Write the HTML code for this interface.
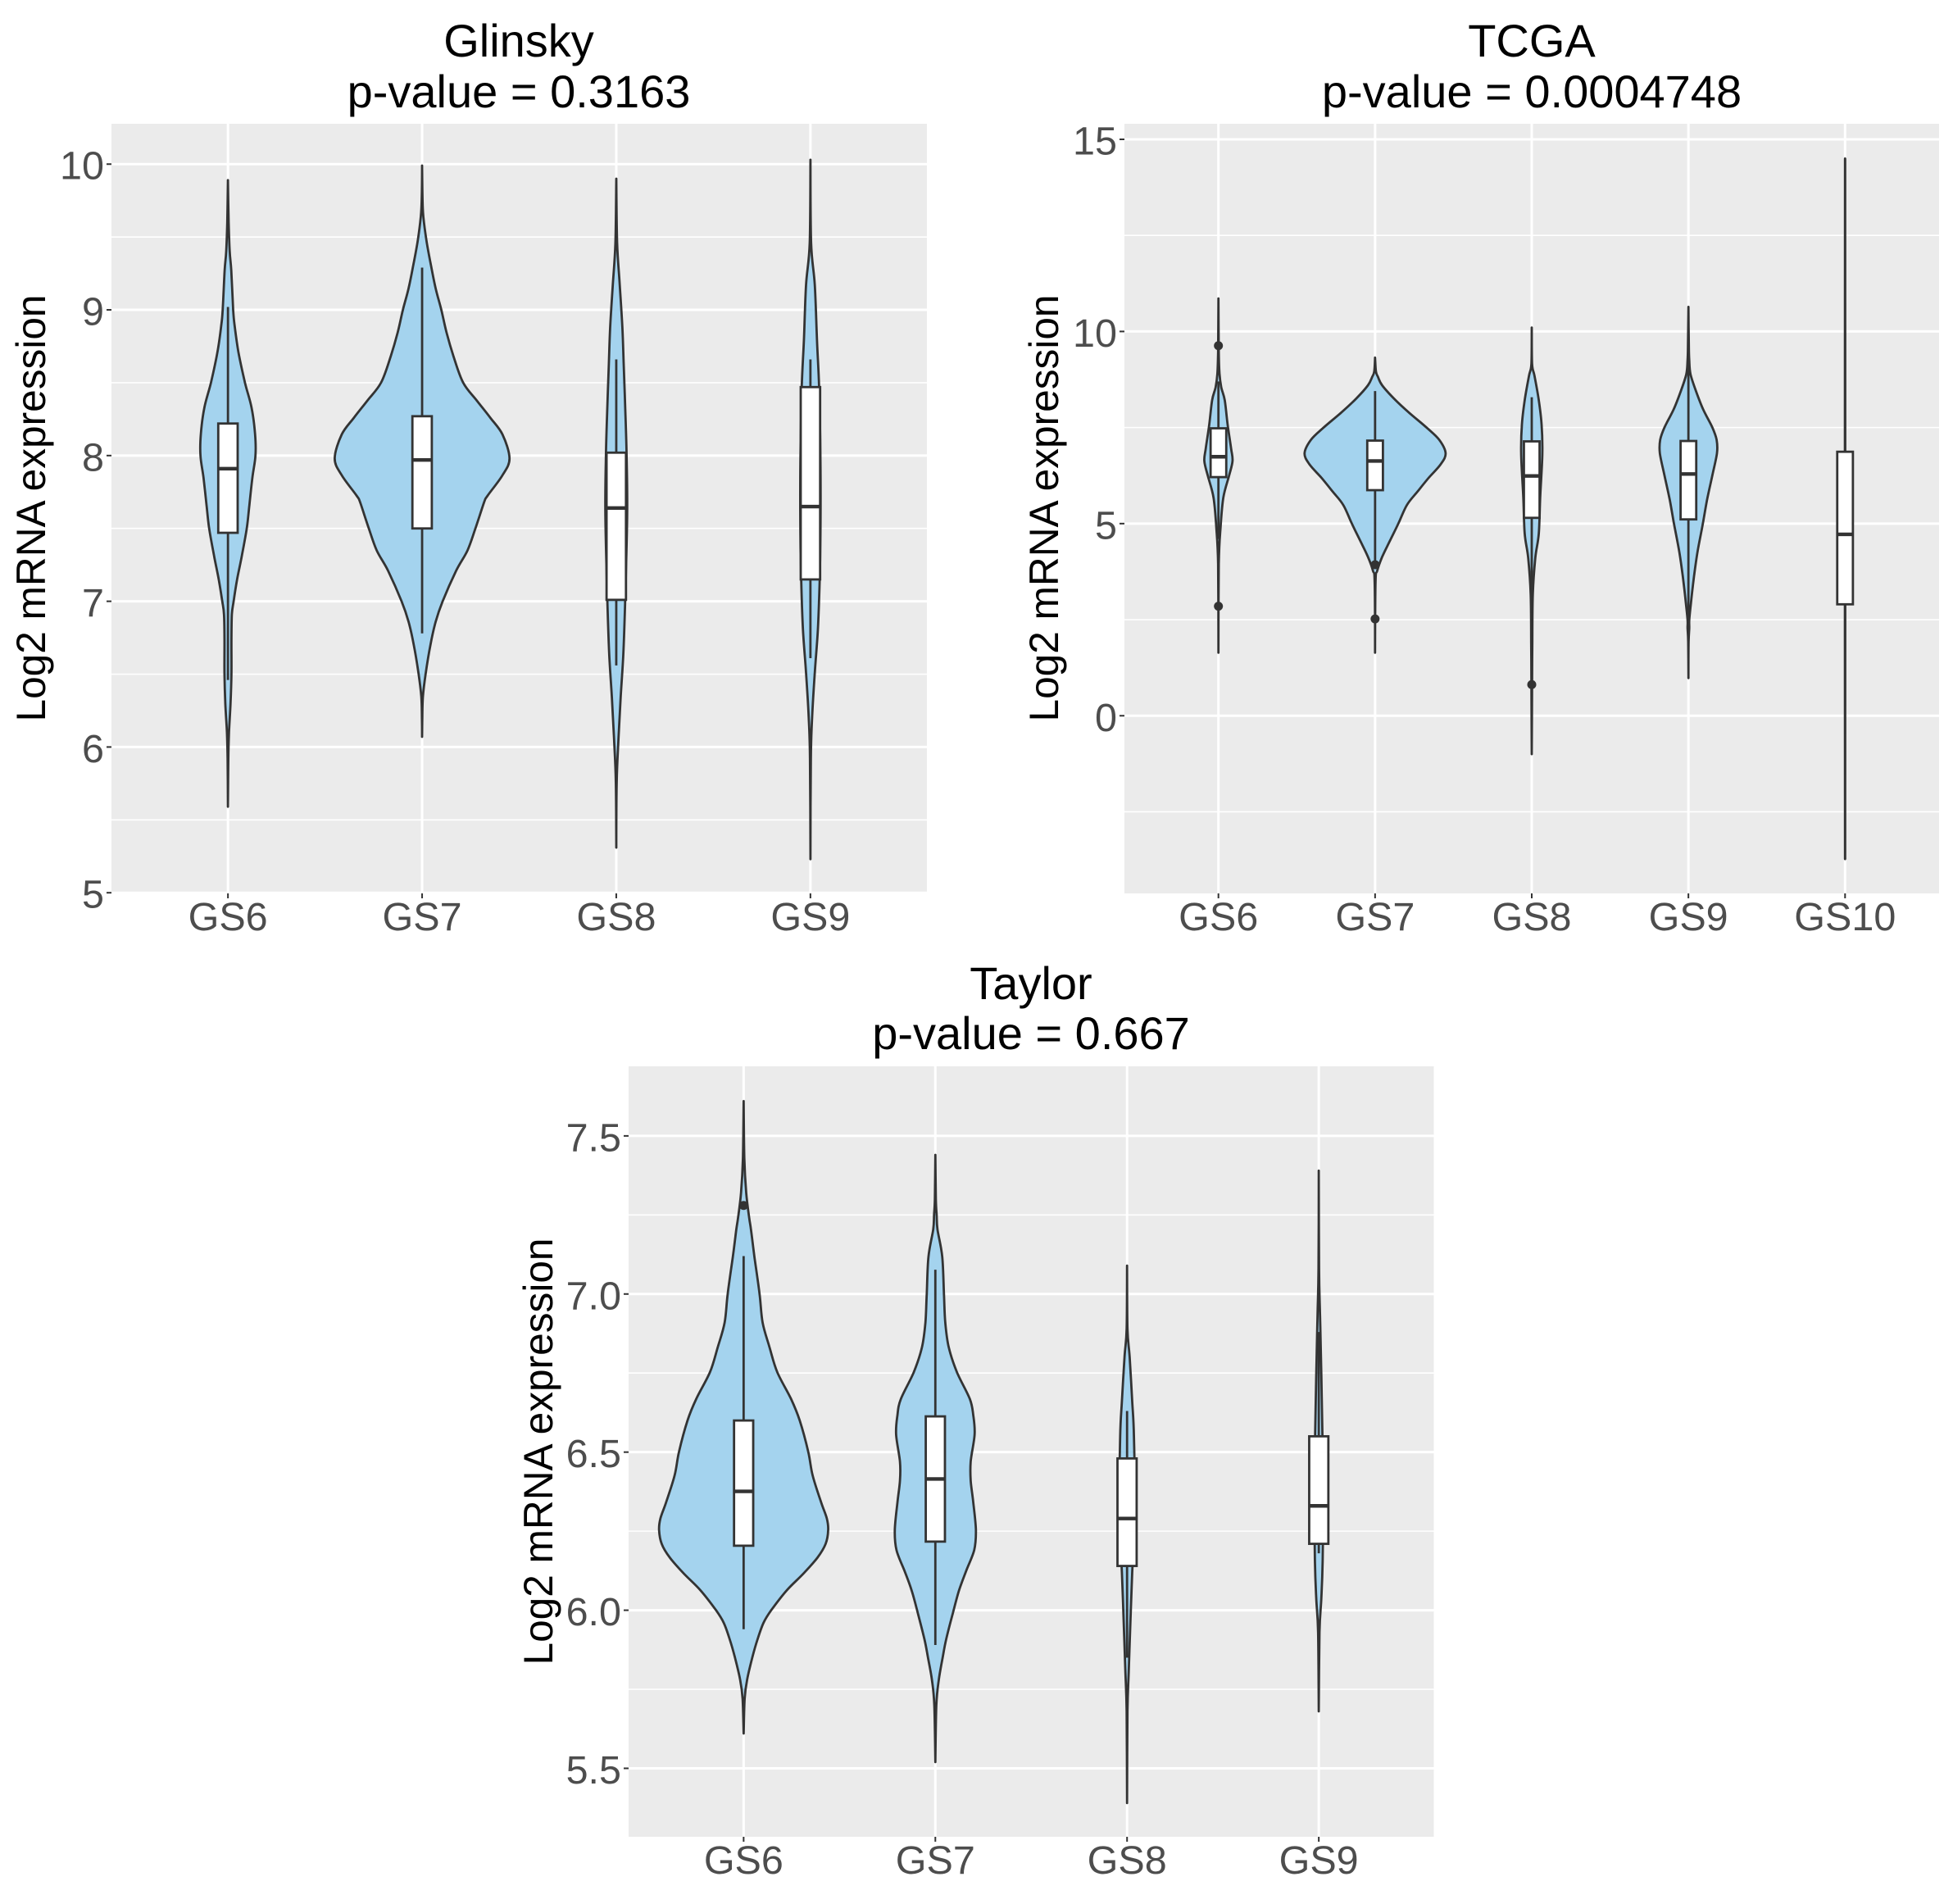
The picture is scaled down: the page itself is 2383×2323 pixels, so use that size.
<!DOCTYPE html>
<html lang="en">
<head>
<meta charset="utf-8">
<title>Log2 mRNA expression by Gleason score</title>
<style>
html,body{margin:0;padding:0;background:#fff;}
svg{display:block;font-family:"Liberation Sans",sans-serif;}
.title{font-size:56px;fill:#000;text-anchor:middle;}
.ytitle{font-size:49.6px;fill:#000;text-anchor:middle;}
.tick{font-size:48.5px;fill:#4D4D4D;}
</style>
</head>
<body>
<svg id="figure" xmlns="http://www.w3.org/2000/svg" width="2383" height="2323" viewBox="0 0 2383 2323">
  <rect x="0" y="0" width="2383" height="2323" fill="#ffffff"/>
  <g id="panel-glinsky"></g>
  <g id="panel-tcga"></g>
  <g id="panel-taylor"></g>

  <text class="title" x="633" y="69">Glinsky</text>
  <text class="title" x="633" y="131">p-value = 0.3163</text>
  <text class="ytitle" transform="translate(55 620) rotate(-90)">Log2 mRNA expression</text>

  <text class="title" x="1869" y="69">TCGA</text>
  <text class="title" x="1869" y="131">p-value = 0.0004748</text>
  <text class="ytitle" transform="translate(1291 620) rotate(-90)">Log2 mRNA expression</text>

  <text class="title" x="1258" y="1219">Taylor</text>
  <text class="title" x="1258" y="1280">p-value = 0.667</text>
  <text class="ytitle" transform="translate(674 1771) rotate(-90)">Log2 mRNA expression</text>
</svg>

<script>
// ---------- Glinsky data ----------
const glinskyCategories = ['GS6', 'GS7', 'GS8', 'GS9'];
const glinskyMajorTicks = [5, 6, 7, 8, 9, 10];
const glinskyMinorTicks = [5.5, 6.5, 7.5, 8.5, 9.5];
const glinskyTickLabels = ['5', '6', '7', '8', '9', '10'];
const glinskyQ1 = [7.47, 7.50, 7.01, 7.15];
const glinskyMedian = [7.91, 7.97, 7.64, 7.65];
const glinskyQ3 = [8.22, 8.27, 8.02, 8.47];
const glinskyWhiskerLow = [6.46, 6.78, 6.56, 6.61];
const glinskyWhiskerHigh = [9.02, 9.29, 8.66, 8.66];
const glinskyOutliers = [[], [], [], []];
const glinskyGS6Values = [9.89, 9.6, 9.4, 9.27, 9.0, 8.9, 8.71, 8.5, 8.33, 8.15, 8.0, 7.85, 7.66, 7.5, 7.3, 7.15, 7.0, 6.91, 6.74, 6.5, 6.3, 6.1, 5.92, 5.59];
const glinskyGS6Density = [0, 0.008, 0.02, 0.038, 0.06, 0.075, 0.12, 0.195, 0.27, 0.31, 0.315, 0.28, 0.245, 0.215, 0.155, 0.105, 0.065, 0.045, 0.04, 0.04, 0.03, 0.012, 0.004, 0];
const glinskyGS7Values = [9.99, 9.75, 9.637, 9.474, 9.31, 9.147, 9.0, 8.844, 8.68, 8.5, 8.378, 8.26, 8.145, 7.98, 7.865, 7.725, 7.68, 7.5, 7.35, 7.21, 7.0, 6.86, 6.7, 6.5, 6.35, 6.2, 6.07];
const glinskyGS7Density = [0, 0.005, 0.015, 0.05, 0.10, 0.155, 0.22, 0.28, 0.36, 0.47, 0.625, 0.78, 0.92, 1, 0.92, 0.75, 0.71, 0.61, 0.52, 0.39, 0.235, 0.155, 0.095, 0.04, 0.01, 0.002, 0];
const glinskyGS8Values = [9.90, 9.46, 9.17, 8.88, 8.63, 8.29, 7.96, 7.63, 7.30, 6.96, 6.63, 6.34, 6.05, 5.76, 5.31];
const glinskyGS8Density = [0, 0.01, 0.04, 0.07, 0.085, 0.105, 0.12, 0.125, 0.115, 0.10, 0.08, 0.05, 0.025, 0.005, 0];
const glinskyGS9Values = [10.03, 9.46, 9.17, 8.79, 8.46, 7.96, 7.46, 7.13, 6.80, 6.51, 6.21, 5.92, 5.23];
const glinskyGS9Density = [0, 0.008, 0.05, 0.075, 0.10, 0.115, 0.115, 0.105, 0.085, 0.05, 0.02, 0.005, 0];

// ---------- TCGA data ----------
const tcgaCategories = ['GS6', 'GS7', 'GS8', 'GS9', 'GS10'];
const tcgaMajorTicks = [0, 5, 10, 15];
const tcgaMinorTicks = [-2.5, 2.5, 7.5, 12.5];
const tcgaTickLabels = ['0', '5', '10', '15'];
const tcgaQ1 = [6.21, 5.87, 5.15, 5.11, 2.90];
const tcgaMedian = [6.74, 6.63, 6.24, 6.29, 4.72];
const tcgaQ3 = [7.48, 7.16, 7.14, 7.15, 6.87];
const tcgaWhiskerLow = [4.60, 3.95, 2.68, 2.42, -3.73];
const tcgaWhiskerHigh = [8.70, 8.45, 8.29, 9.25, 14.50];
const tcgaOutliers = [[9.63, 2.85], [3.93, 2.52], [0.81], [], []];
const tcgaGS6Values = [10.86, 9.47, 8.9, 8.55, 8.21, 7.58, 6.95, 6.63, 6.24, 5.68, 4.90, 3.95, 1.64];
const tcgaGS6Density = [0, 0.005, 0.015, 0.04, 0.09, 0.13, 0.18, 0.20, 0.15, 0.07, 0.03, 0.005, 0];
const tcgaGS7Values = [9.32, 8.96, 8.82, 8.6, 8.25, 7.89, 7.5, 7.18, 6.83, 6.54, 6.19, 5.83, 5.48, 5.0, 4.55, 4.13, 3.77, 3.48, 1.64];
const tcgaGS7Density = [0, 0.012, 0.04, 0.10, 0.27, 0.48, 0.73, 0.91, 1, 0.93, 0.76, 0.60, 0.45, 0.33, 0.21, 0.10, 0.03, 0.006, 0];
const tcgaGS8Values = [10.1, 9.16, 8.84, 8.21, 7.58, 6.79, 5.68, 4.74, 4.10, 3.16, 1.90, 0.79, -1.0];
const tcgaGS8Density = [0, 0.005, 0.04, 0.10, 0.14, 0.15, 0.12, 0.10, 0.05, 0.015, 0.008, 0.005, 0];
const tcgaGS9Values = [10.64, 9.63, 9.25, 8.89, 8.46, 7.97, 7.5, 7.18, 6.83, 6.26, 5.62, 5.0, 4.27, 3.63, 2.92, 2.49, 2.28, 1.92, 0.98];
const tcgaGS9Density = [0, 0.006, 0.012, 0.03, 0.105, 0.21, 0.34, 0.40, 0.405, 0.34, 0.265, 0.205, 0.13, 0.08, 0.035, 0.012, 0.012, 0.003, 0];
const tcgaGS10Values = [14.5, 5, -3.73];
const tcgaGS10Density = [0, 0.002, 0];

// ---------- Taylor data ----------
const taylorCategories = ['GS6', 'GS7', 'GS8', 'GS9'];
const taylorMajorTicks = [5.5, 6.0, 6.5, 7.0, 7.5];
const taylorMinorTicks = [5.75, 6.25, 6.75, 7.25];
const taylorTickLabels = ['5.5', '6.0', '6.5', '7.0', '7.5'];
const taylorQ1 = [6.204, 6.217, 6.14, 6.21];
const taylorMedian = [6.376, 6.415, 6.29, 6.33];
const taylorQ3 = [6.60, 6.613, 6.48, 6.55];
const taylorWhiskerLow = [5.94, 5.89, 5.85, 6.18];
const taylorWhiskerHigh = [7.12, 7.077, 6.63, 6.88];
const taylorOutliers = [[7.28], [], [], []];
const taylorGS6Values = [7.61, 7.43, 7.32, 7.24, 7.204, 7.118, 7.0, 6.91, 6.832, 6.753, 6.668, 6.6, 6.5, 6.426, 6.34, 6.29, 6.253, 6.21, 6.166, 6.115, 6.063, 6.0, 5.96, 5.907, 5.85, 5.78, 5.72, 5.61];
const taylorGS6Density = [0, 0.008, 0.03, 0.065, 0.085, 0.125, 0.185, 0.22, 0.30, 0.39, 0.55, 0.65, 0.75, 0.80, 0.90, 0.965, 0.98, 0.95, 0.855, 0.69, 0.50, 0.32, 0.23, 0.16, 0.10, 0.04, 0.012, 0];
const taylorGS7Values = [7.44, 7.3, 7.25, 7.204, 7.118, 7.0, 6.91, 6.832, 6.753, 6.668, 6.616, 6.556, 6.47, 6.41, 6.34, 6.253, 6.19, 6.123, 6.063, 5.993, 5.907, 5.85, 5.78, 5.7, 5.52];
const taylorGS7Density = [0, 0.006, 0.015, 0.025, 0.08, 0.10, 0.115, 0.155, 0.25, 0.40, 0.44, 0.455, 0.41, 0.41, 0.44, 0.47, 0.45, 0.355, 0.275, 0.205, 0.125, 0.085, 0.04, 0.012, 0];
const taylorGS8Values = [7.09, 6.89, 6.80, 6.66, 6.55, 6.30, 6.12, 5.97, 5.81, 5.68, 5.39];
const taylorGS8Density = [0, 0.005, 0.03, 0.06, 0.08, 0.09, 0.06, 0.04, 0.02, 0.005, 0];
const taylorGS9Values = [7.39, 7.08, 6.93, 6.74, 6.40, 6.16, 6.04, 5.93, 5.68];
const taylorGS9Density = [0, 0.003, 0.015, 0.03, 0.05, 0.045, 0.03, 0.008, 0];

const SVG_NS = 'http://www.w3.org/2000/svg';
const INK = '#333333';
const VIOLIN_FILL = '#A4D3EE';

function make(tag, parent, attrs) {
  const node = document.createElementNS(SVG_NS, tag);
  for (const key in attrs) node.setAttribute(key, attrs[key]);
  parent.appendChild(node);
  return node;
}

function linearScale(d0, d1, r0, r1) {
  return function (v) { return r0 + (v - d0) * (r1 - r0) / (d1 - d0); };
}

function smoothSegments(pts) {
  let out = '';
  for (let i = 0; i < pts.length - 1; i++) {
    const p0 = pts[Math.max(i - 1, 0)];
    const p1 = pts[i];
    const p2 = pts[i + 1];
    const p3 = pts[Math.min(i + 2, pts.length - 1)];
    const c1x = p1[0] + (p2[0] - p0[0]) / 6;
    const c1y = p1[1] + (p2[1] - p0[1]) / 6;
    const c2x = p2[0] - (p3[0] - p1[0]) / 6;
    const c2y = p2[1] - (p3[1] - p1[1]) / 6;
    out += ' C' + c1x.toFixed(1) + ' ' + c1y.toFixed(1) + ' ' + c2x.toFixed(1) + ' ' + c2y.toFixed(1) + ' ' + p2[0].toFixed(1) + ' ' + p2[1].toFixed(1);
  }
  return out;
}

function violinPath(values, density, cx, y, halfWidth) {
  const right = values.map(function (v, i) { return [cx + density[i] * halfWidth, y(v)]; });
  const left = values.map(function (v, i) { return [cx - density[i] * halfWidth, y(v)]; }).reverse();
  return 'M' + right[0][0].toFixed(1) + ' ' + right[0][1].toFixed(1) + smoothSegments(right) + smoothSegments(left) + ' Z';
}

function drawPanel(cfg) {
  const group = document.getElementById(cfg.id);
  const box = cfg.box;
  const n = cfg.categories.length;
  const step = (box.right - box.left) / (n - 1 + 1.2);
  const x = function (i) { return box.left + 0.6 * step + i * step; };
  const y = linearScale(cfg.domainLow, cfg.domainHigh, box.bottom, box.top);

  const bg = make('rect', group, { x: box.left, y: box.top, width: box.right - box.left, height: box.bottom - box.top, fill: '#EBEBEB' });
  
  

  cfg.minorTicks.forEach(function (t) {
    const g = make('line', group, { x1: box.left, x2: box.right, y1: y(t), y2: y(t), stroke: '#fff', 'stroke-width': 1.6 });
    
    
  });
  cfg.majorTicks.forEach(function (t, i) {
    const g = make('line', group, { x1: box.left, x2: box.right, y1: y(t), y2: y(t), stroke: '#fff', 'stroke-width': 3 });
    
    
    const tk = make('line', group, { x1: box.left - 6, x2: box.left, y1: y(t), y2: y(t), stroke: INK, 'stroke-width': 2 });
    
    
    const lb = make('text', group, { x: box.left - 9, y: y(t) + 18.5, 'text-anchor': 'end', 'class': 'tick' });
    
    
    lb.textContent = cfg.tickLabels[i];
  });
  cfg.categories.forEach(function (c, i) {
    const g = make('line', group, { x1: x(i), x2: x(i), y1: box.top, y2: box.bottom, stroke: '#fff', 'stroke-width': 3 });
    
    
    const tk = make('line', group, { x1: x(i), x2: x(i), y1: box.bottom, y2: box.bottom + 6, stroke: INK, 'stroke-width': 2 });
    
    
    const lb = make('text', group, { x: x(i), y: box.bottom + 45, 'text-anchor': 'middle', 'class': 'tick' });
    
    
    lb.textContent = c;
  });

  cfg.categories.forEach(function (c, i) {
    const name = cfg.key + '-' + c.toLowerCase();
    const cx = x(i);
    const violin = make('path', group, {
      d: violinPath(cfg.violinValues[i], cfg.violinDensity[i], cx, y, 0.45 * step),
      fill: VIOLIN_FILL, stroke: INK, 'stroke-width': 2.8, 'stroke-linejoin': 'round'
    });
    
    

    const whisker = make('line', group, { x1: cx, x2: cx, y1: y(cfg.whiskerHigh[i]), y2: y(cfg.whiskerLow[i]), stroke: INK, 'stroke-width': 2.8 });
    
    

    const half = 0.05 * step;
    const rect = make('rect', group, { x: cx - half, y: y(cfg.q3[i]), width: 2 * half, height: y(cfg.q1[i]) - y(cfg.q3[i]), fill: '#fff', stroke: INK, 'stroke-width': 2.8 });
    
    

    const med = make('line', group, { x1: cx - half, x2: cx + half, y1: y(cfg.median[i]), y2: y(cfg.median[i]), stroke: INK, 'stroke-width': 4.4 });
    
    

    cfg.outliers[i].forEach(function (v) {
      const dot = make('circle', group, { cx: cx, cy: y(v), r: 5.5, fill: INK });
      
      
    });
  });
}

drawPanel({
  id: 'panel-glinsky', key: 'glinsky',
  box: { left: 136, right: 1131, top: 151, bottom: 1090 },
  domainLow: 4.9955, domainHigh: 10.277,
  categories: glinskyCategories, majorTicks: glinskyMajorTicks, minorTicks: glinskyMinorTicks, tickLabels: glinskyTickLabels,
  q1: glinskyQ1, median: glinskyMedian, q3: glinskyQ3, whiskerLow: glinskyWhiskerLow, whiskerHigh: glinskyWhiskerHigh, outliers: glinskyOutliers,
  violinValues: [glinskyGS6Values, glinskyGS7Values, glinskyGS8Values, glinskyGS9Values],
  violinDensity: [glinskyGS6Density, glinskyGS7Density, glinskyGS8Density, glinskyGS9Density]
});

drawPanel({
  id: 'panel-tcga', key: 'tcga',
  box: { left: 1372, right: 2366, top: 151, bottom: 1090 },
  domainLow: -4.623, domainHigh: 15.405,
  categories: tcgaCategories, majorTicks: tcgaMajorTicks, minorTicks: tcgaMinorTicks, tickLabels: tcgaTickLabels,
  q1: tcgaQ1, median: tcgaMedian, q3: tcgaQ3, whiskerLow: tcgaWhiskerLow, whiskerHigh: tcgaWhiskerHigh, outliers: tcgaOutliers,
  violinValues: [tcgaGS6Values, tcgaGS7Values, tcgaGS8Values, tcgaGS9Values, tcgaGS10Values],
  violinDensity: [tcgaGS6Density, tcgaGS7Density, tcgaGS8Density, tcgaGS9Density, tcgaGS10Density]
});

drawPanel({
  id: 'panel-taylor', key: 'taylor',
  box: { left: 767, right: 1749.5, top: 1301, bottom: 2241 },
  domainLow: 5.2835, domainHigh: 7.720,
  categories: taylorCategories, majorTicks: taylorMajorTicks, minorTicks: taylorMinorTicks, tickLabels: taylorTickLabels,
  q1: taylorQ1, median: taylorMedian, q3: taylorQ3, whiskerLow: taylorWhiskerLow, whiskerHigh: taylorWhiskerHigh, outliers: taylorOutliers,
  violinValues: [taylorGS6Values, taylorGS7Values, taylorGS8Values, taylorGS9Values],
  violinDensity: [taylorGS6Density, taylorGS7Density, taylorGS8Density, taylorGS9Density]
});
</script>
</body>
</html>
